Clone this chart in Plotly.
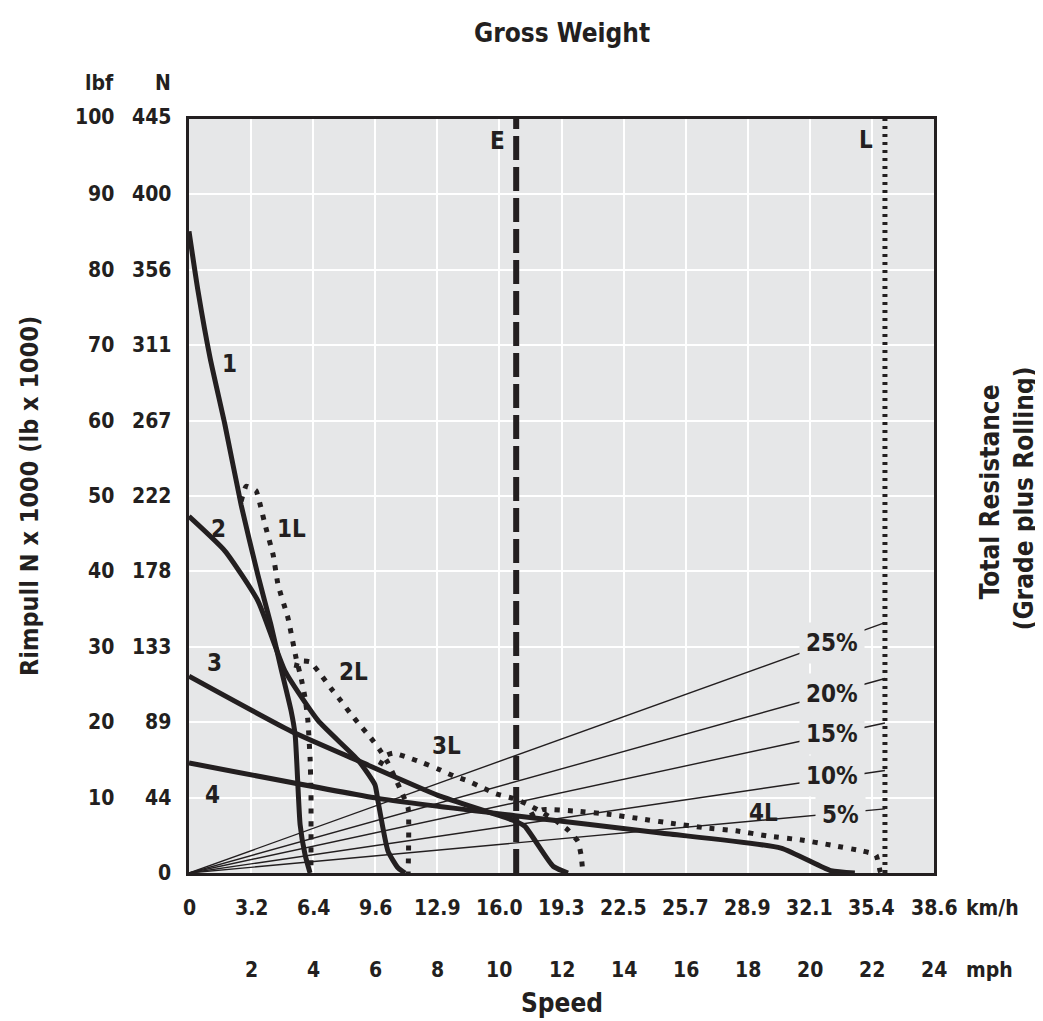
import plotly.graph_objects as go

FONT = "Liberation Sans Narrow, Arial Narrow, DejaVu Sans Condensed, DejaVu Sans, sans-serif"
INK = "#231f20"
BG = "#e6e7e8"

# ---- data (speed in mph, rimpull in lbf x 1000) ----
gear1_mph = [0, 0.29, 0.68, 1.16, 1.68, 2.22, 2.64, 2.96, 3.29, 3.42, 3.58, 3.74, 3.90]
gear1_lbf = [85.1, 77.2, 68.3, 59.4, 48.8, 39.5, 32.9, 27.2, 21.5, 18.3, 6.4, 2.4, 0]

gear2_mph = [0, 1.16, 2.22, 3.09, 4.16, 5.44, 5.99, 6.09, 6.41, 6.73, 6.96]
gear2_lbf = [47.3, 42.7, 36.1, 26.8, 20.2, 15.0, 11.7, 9.5, 2.9, 0.7, 0]

gear3_mph = [0, 3.29, 5.44, 8.02, 10.5, 10.82, 11.73, 12.21]
gear3_lbf = [26.1, 18.8, 14.9, 10.3, 6.9, 6.2, 0.9, 0]

gear4_mph = [0, 6.09, 10.5, 15.2, 19.07, 20.68, 21.45]
gear4_lbf = [14.6, 9.9, 7.6, 5.3, 3.3, 0.3, 0]

gear1L_mph = [1.68, 1.84, 2.16, 2.32, 2.45, 2.71, 2.87, 3.19, 3.45, 3.61, 3.74, 3.83, 3.90, 3.93, 3.93]
gear1L_lbf = [49.3, 51.3, 50.7, 48.4, 46.2, 42.2, 38.2, 33.8, 28.5, 25.9, 23.2, 20.2, 15.3, 10.9, 0]

gear2L_mph = [3.45, 3.51, 3.90, 4.25, 4.57, 4.90, 5.19, 5.51, 5.86, 6.15, 6.41, 6.64, 6.83, 7.06, 7.06]
gear2L_lbf = [27.2, 28.1, 28.0, 26.3, 24.5, 22.8, 21.2, 19.6, 17.9, 16.3, 14.6, 12.6, 10.9, 8.6, 0]

gear3L_mph = [6.15, 6.35, 6.57, 7.06, 7.54, 8.02, 8.51, 8.99, 9.41, 9.89, 10.44, 10.86, 11.31, 11.79, 12.21, 12.53, 12.63, 12.69]
gear3L_lbf = [14.3, 15.6, 15.9, 15.3, 14.6, 13.8, 12.9, 12.2, 11.4, 10.5, 9.9, 9.2, 8.2, 7.0, 5.7, 4.2, 2.4, 0]

gear4L_mph = [10.99, 11.40, 12.47, 13.50, 14.53, 15.53, 16.62, 17.62, 18.65, 19.68, 20.68, 21.71, 22.13, 22.26, 22.29]
gear4L_lbf = [7.6, 8.4, 8.2, 7.8, 7.2, 6.6, 6.0, 5.6, 4.9, 4.4, 3.7, 2.9, 2.4, 0.3, 0]

E_speed = 10.54
L_speed = 22.42

grade_labels = ["25%", "20%", "15%", "10%", "5%"]
grade_end_lbf = [33.2, 25.8, 19.9, 13.6, 8.5]   # resistance at L_speed

kmh_ticks = ["0", "3.2", "6.4", "9.6", "12.9", "16.0", "19.3", "22.5", "25.7", "28.9", "32.1", "35.4", "38.6"]
kmh_pos = [0, 2, 4, 6, 8, 10, 12, 14, 16, 18, 20, 22, 24]
mph_ticks = ["2", "4", "6", "8", "10", "12", "14", "16", "18", "20", "22", "24"]
mph_pos = [2, 4, 6, 8, 10, 12, 14, 16, 18, 20, 22, 24]
lbf_ticks = ["10", "20", "30", "40", "50", "60", "70", "80", "90", "100"]
lbf_pos = [10, 20, 30, 40, 50, 60, 70, 80, 90, 100]
N_ticks = ["0", "44", "89", "133", "178", "222", "267", "311", "356", "400", "445"]
N_pos = [0, 10, 20, 30, 40, 50, 60, 70, 80, 90, 100]

fig = go.Figure()

# grade lines
for val in grade_end_lbf:
    fig.add_trace(go.Scatter(x=[0, L_speed], y=[0, val], mode="lines",
                             line=dict(color=INK, width=1.4), hoverinfo="skip"))

solid = [(gear1_mph, gear1_lbf), (gear2_mph, gear2_lbf), (gear3_mph, gear3_lbf), (gear4_mph, gear4_lbf)]
dotted = [(gear1L_mph, gear1L_lbf), (gear2L_mph, gear2L_lbf), (gear3L_mph, gear3L_lbf), (gear4L_mph, gear4L_lbf)]

for xs, ys in dotted:
    fig.add_trace(go.Scatter(x=xs, y=ys, mode="lines",
                             line=dict(color=INK, width=5, dash="5px,8px",
                                       shape="spline", smoothing=0.4)))
for xs, ys in solid:
    fig.add_trace(go.Scatter(x=xs, y=ys, mode="lines",
                             line=dict(color=INK, width=5, shape="spline", smoothing=0.5)))

fig.add_trace(go.Scatter(x=[E_speed, E_speed], y=[0, 100], mode="lines",
                         line=dict(color=INK, width=6, dash="24px,7px")))
fig.add_trace(go.Scatter(x=[L_speed, L_speed], y=[0, 100], mode="lines",
                         line=dict(color=INK, width=5, dash="3px,5px")))

ann = []
def A(text, x, y, size=24, **kw):
    d = dict(text=text, x=x, y=y, showarrow=False, yanchor="middle",
             font=dict(family=FONT, size=size, color=INK, weight="bold"))
    d.update(kw)
    ann.append(d)

# curve labels (data coords)
A("1", 1.32, 67.5)
A("2", 0.94, 45.6)
A("3", 0.83, 27.9)
A("4", 0.77, 10.3)
A("1L", 3.3, 45.6)
A("2L", 5.3, 26.6)
A("3L", 8.29, 16.8)
A("4L", 18.5, 8.0)
A("E", 9.93, 97.1)
A("L", 21.82, 97.2)

# grade labels with background to break lines
grade_label_x = [20.7, 20.7, 20.7, 20.7, 21.0]
grade_label_y = [30.5, 23.7, 18.4, 12.9, 7.7]
for t, gx, gy in zip(grade_labels, grade_label_x, grade_label_y):
    A(t, gx, gy, bgcolor=BG, borderpad=6)

# x tick labels
for t, p in zip(kmh_ticks, kmh_pos):
    A(t, p, 0, size=21, yref="paper", yshift=-35)
for t, p in zip(mph_ticks, mph_pos):
    A(t, p, 0, size=21, yref="paper", yshift=-97)
A("km/h", 1, 0, size=21, xref="paper", xanchor="left", xshift=30, yref="paper", yshift=-35)
A("mph", 1, 0, size=21, xref="paper", xanchor="left", xshift=30, yref="paper", yshift=-97)

# y tick labels
for t, p in zip(lbf_ticks, lbf_pos):
    A(t, 0, p, size=21, xref="paper", xanchor="right", xshift=-73, yshift=2 if p == 100 else 0)
for t, p in zip(N_ticks, N_pos):
    A(t, 0, p, size=21, xref="paper", xanchor="right", xshift=-16, yshift=2 if p == 100 else 0)
A("lbf", 0, 1, size=21, xref="paper", yref="paper", xanchor="right", xshift=-73, yshift=36)
A("N", 0, 1, size=21, xref="paper", yref="paper", xanchor="right", xshift=-16, yshift=36)

# titles
A("Gross Weight", 0.5, 1, size=26, xref="paper", yref="paper", yshift=86)
A("Speed", 0.5, 0, size=26, xref="paper", yref="paper", yshift=-130)
A("Rimpull N x 1000 (lb x 1000)", 0, 0.5, size=25, xref="paper", yref="paper",
  xshift=-160, textangle=-90, xanchor="center")
A("Total Resistance", 1, 0.505, size=26, xref="paper", yref="paper",
  xshift=73, textangle=-90, xanchor="right")
A("(Grade plus Rolling)", 1, 0.497, size=26, xref="paper", yref="paper",
  xshift=107, textangle=-90, xanchor="right")

fig.update_layout(
    width=1043, height=1021,
    margin=dict(l=181, r=117, t=111, b=156),
    paper_bgcolor="white", plot_bgcolor=BG,
    showlegend=False,
    annotations=ann,
    font=dict(family=FONT, color=INK),
    xaxis=dict(range=[0, 24], tickvals=kmh_pos, showticklabels=False, ticks="",
               showgrid=True, gridcolor="white", gridwidth=2, zeroline=False,
               showline=True, mirror=True, linecolor=INK, linewidth=3, fixedrange=True),
    yaxis=dict(range=[0, 100], tickvals=N_pos, showticklabels=False, ticks="",
               showgrid=True, gridcolor="white", gridwidth=2, zeroline=False,
               showline=True, mirror=True, linecolor=INK, linewidth=3, fixedrange=True),
)

fig.write_html("out.html")
